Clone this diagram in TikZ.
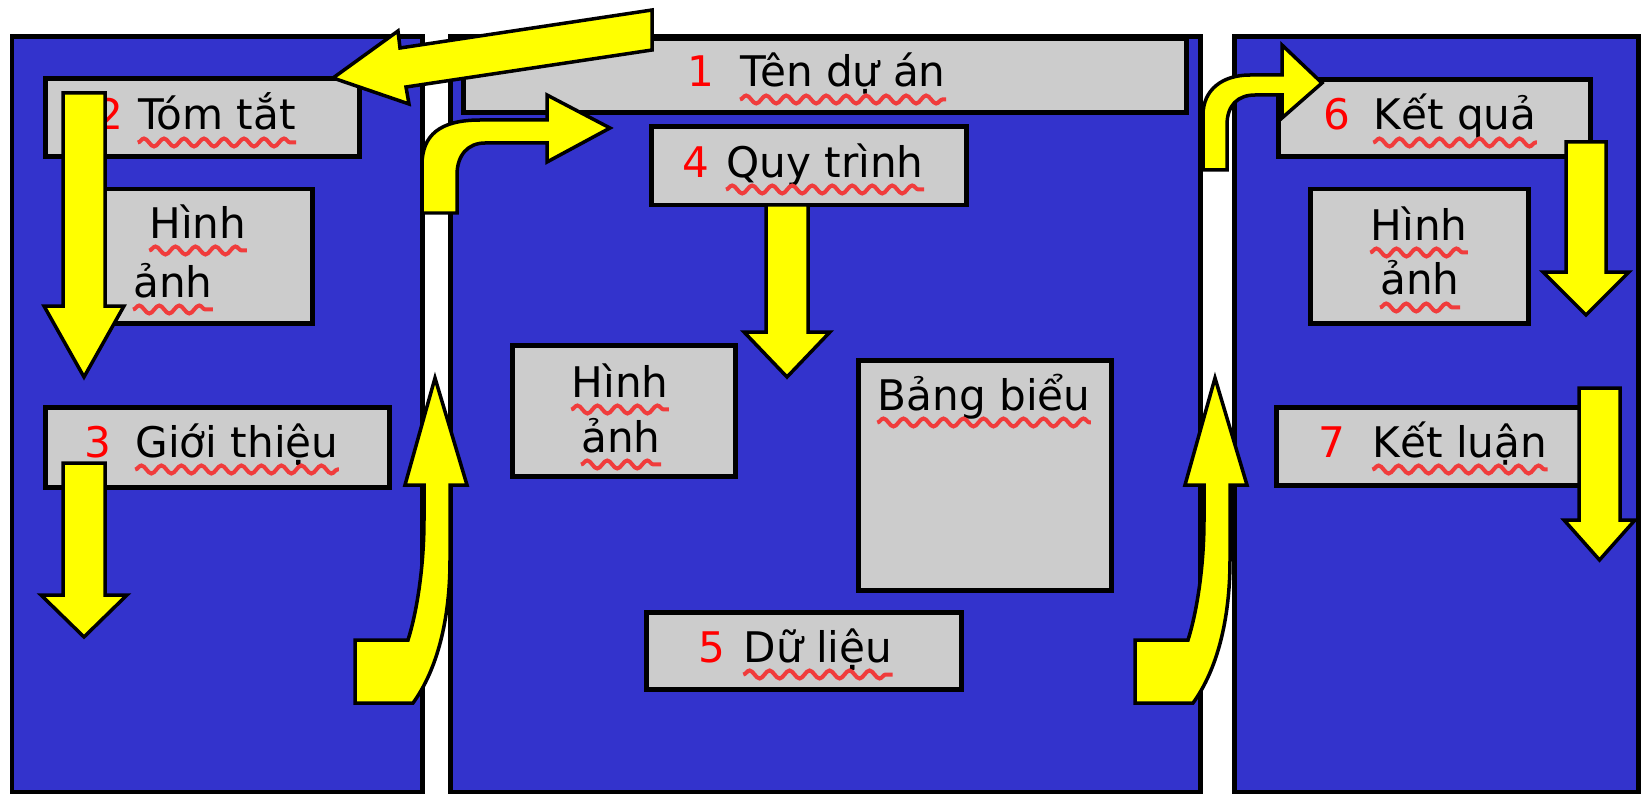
\documentclass[tikz,border=0pt]{standalone}
\usepackage{fontspec}
\setmainfont{DejaVu Sans}
\usetikzlibrary{decorations.pathmorphing}
\definecolor{panelblue}{RGB}{51,51,204}
\definecolor{boxgray}{RGB}{204,204,204}
\definecolor{arrowyellow}{RGB}{255,255,0}
\definecolor{numred}{RGB}{255,0,0}
\definecolor{wavyred}{RGB}{240,60,60}
\tikzset{
  panel/.style={fill=panelblue, draw=black, line width=0.1cm},
  grbox/.style={fill=boxgray, draw=black, line width=0.1cm},
  blk/.style={fill=arrowyellow, draw=black, line width=0.07cm, line join=miter},
  wavy/.style={draw=wavyred, line width=0.08cm, decorate,
    decoration={snake, amplitude=0.08cm, segment length=0.4cm}},
  num/.style={anchor=base, inner sep=0pt, text=numred, font=\fontsize{24}{29}\selectfont},
  word/.style={anchor=base, inner sep=0pt, font=\fontsize{24}{29}\selectfont,
    append after command={([yshift=-0.25cm]\tikzlastnode.base west) edge[wavy] ([yshift=-0.25cm]\tikzlastnode.base east)}},
}
% straight block arrow pointing down
\newcommand{\dnblk}[6]{%
  \draw[blk] (#1,#3) -- (#1,#4) -- ({#1-#5},#4) -- ({(#1+#2)/2},#6) -- ({#2+#5},#4) -- (#2,#4) -- (#2,#3) -- cycle;}
\begin{document}
\begin{tikzpicture}[x=0.02cm, y=-0.02cm]
  \useasboundingbox[fill=white] (0,0) rectangle (1641,794);
  % panels
  \draw[panel] (12,37) rectangle (422,792);
  \draw[panel] (450,37) rectangle (1200,792);
  \draw[panel] (1234,37) rectangle (1638,792);
  % grey boxes
  \draw[grbox] (463,39) rectangle (1186,113);
  \draw[grbox] (45,79) rectangle (359,157);
  \draw[grbox] (100,189) rectangle (312,323);
  \draw[grbox] (45,407) rectangle (389,487);
  \draw[grbox] (651,127) rectangle (966,205);
  \draw[grbox] (512,345) rectangle (735,476);
  \draw[grbox] (858,360) rectangle (1111,590);
  \draw[grbox] (646,612) rectangle (961,689);
  \draw[grbox] (1278,80) rectangle (1590,157);
  \draw[grbox] (1310,189) rectangle (1528,323);
  \draw[grbox] (1276,407) rectangle (1590,485);
  % labels
  \node[num] (n1) at (701,87) {1};
  \node[word] (ten) at (843,87) {Tên dự án};
  \node[num] (n2) at (110,130) {2};
  \node[word] (tomtat) at (217,130) {Tóm tắt};
  \node[word] (hinhL) at (198,238) {Hình};
  \node[word] (anhL) at (173,297) {ảnh};
  \node[num] (n3) at (98,457) {3};
  \node[word] (gioithieu) at (237,457) {Giới thiệu};
  \node[num] (n4) at (696,177) {4};
  \node[word] (quytrinh) at (825,177) {Quy trình};
  \node[word] (hinhM) at (620,397) {Hình};
  \node[word] (anhM) at (621,452) {ảnh};
  \node[word] (bangbieu) at (984,410) {Bảng biểu};
  \node[num] (n5) at (712,662) {5};
  \node[word] (dulieu) at (818,662) {Dữ liệu};
  \node[num] (n6) at (1337,130) {6};
  \node[word] (ketqua) at (1455,130) {Kết quả};
  \node[word] (hinhR) at (1419,240) {Hình};
  \node[word] (anhR) at (1420,295) {ảnh};
  \node[num] (n7) at (1332,457) {7};
  \node[word] (ketluan) at (1460,457) {Kết luận};
  % arrows inside the panels
  \dnblk{63}{105}{93}{306}{19}{377}
  \dnblk{63}{105}{463}{595}{22}{637}
  \dnblk{766}{808}{205}{332}{22}{377}
  \dnblk{1566}{1606}{142}{272}{23}{315}
  \dnblk{1579}{1620}{388}{520}{15}{560}
  % arrows between the panels
  \draw[blk] (652,10) -- (652,50) -- (406,87) -- (409,104) -- (333,78) -- (398,31) -- (400,48) -- cycle;
  \draw[blk] (422,213) -- (422,165) .. controls (422,135) and (440,120) .. (480,120) -- (547,120) -- (547,95) -- (610,128) -- (547,162) -- (547,143) -- (485,143) .. controls (468,143) and (457,155) .. (457,175) -- (457,213) -- cycle;
  \draw[blk] (1203,170) -- (1203,115) .. controls (1203,90) and (1222,75) .. (1250,75) -- (1282,75) -- (1282,45) -- (1322,83) -- (1282,118) -- (1282,95) -- (1255,95) .. controls (1238,95) and (1227,105) .. (1227,125) -- (1227,170) -- cycle;
  \foreach \s in {0,780}
    \draw[blk, shift={(\s,0)}] (355,640) -- (355,703) -- (413,703) .. controls (437,670) and (450,620) .. (450,560) -- (450,485) -- (467,485) -- (435,378) -- (405,485) -- (424,485) -- (424,520) .. controls (424,570) and (416,615) .. (408,640) -- cycle;
\end{tikzpicture}
\end{document}
